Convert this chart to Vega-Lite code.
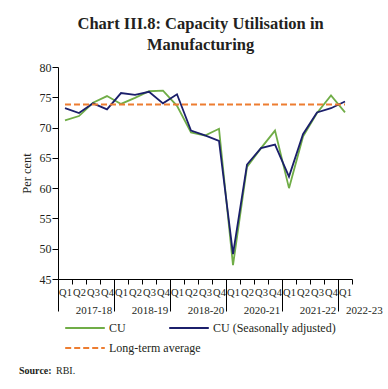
{
  "$schema": "https://vega.github.io/schema/vega-lite/v6.json",
  "padding": {"left": 19, "top": 15, "right": 4, "bottom": 4},
  "spacing": 46,
  "title": {
    "text": ["Chart III.8: Capacity Utilisation in", "Manufacturing"],
    "font": "Liberation Serif",
    "fontSize": 16.5,
    "fontWeight": "bold",
    "color": "#231f20",
    "lineHeight": 21,
    "anchor": "middle",
    "offset": 8
  },
  "config": {
    "view": {"stroke": null},
    "font": "Liberation Serif",
    "axis": {"labelFont": "Liberation Serif", "titleFont": "Liberation Serif", "labelColor": "#231f20", "titleColor": "#231f20", "domainColor": "#000000", "tickColor": "#000000", "grid": false},
    "axisY": {"labelOverlap": false}
  },
  "datasets": {
    "cu": [
      {"q": "2017-18 Q1", "cu": 71.2, "sa": 73.2, "lta": 73.8},
      {"q": "2017-18 Q2", "cu": 71.9, "sa": 72.4, "lta": 73.8},
      {"q": "2017-18 Q3", "cu": 74.1, "sa": 74.0, "lta": 73.8},
      {"q": "2017-18 Q4", "cu": 75.2, "sa": 73.0, "lta": 73.8},
      {"q": "2018-19 Q1", "cu": 73.9, "sa": 75.7, "lta": 73.8},
      {"q": "2018-19 Q2", "cu": 74.9, "sa": 75.4, "lta": 73.8},
      {"q": "2018-19 Q3", "cu": 76.0, "sa": 75.9, "lta": 73.8},
      {"q": "2018-19 Q4", "cu": 76.1, "sa": 74.0, "lta": 73.8},
      {"q": "2019-20 Q1", "cu": 73.6, "sa": 75.5, "lta": 73.8},
      {"q": "2019-20 Q2", "cu": 69.2, "sa": 69.5, "lta": 73.8},
      {"q": "2019-20 Q3", "cu": 68.7, "sa": 68.7, "lta": 73.8},
      {"q": "2019-20 Q4", "cu": 69.8, "sa": 67.8, "lta": 73.8},
      {"q": "2020-21 Q1", "cu": 47.3, "sa": 49.1, "lta": 73.8},
      {"q": "2020-21 Q2", "cu": 63.5, "sa": 63.9, "lta": 73.8},
      {"q": "2020-21 Q3", "cu": 66.6, "sa": 66.6, "lta": 73.8},
      {"q": "2020-21 Q4", "cu": 69.5, "sa": 67.2, "lta": 73.8},
      {"q": "2021-22 Q1", "cu": 60.0, "sa": 61.9, "lta": 73.8},
      {"q": "2021-22 Q2", "cu": 68.5, "sa": 68.9, "lta": 73.8},
      {"q": "2021-22 Q3", "cu": 72.4, "sa": 72.5, "lta": 73.8},
      {"q": "2021-22 Q4", "cu": 75.3, "sa": 73.2, "lta": 73.8},
      {"q": "2022-23 Q1", "cu": 72.5, "sa": 74.3, "lta": 73.8}
    ],
    "source": [{"a": "Source:", "b": "RBI."}]
  },
  "vconcat": [
    {
      "width": 294,
      "height": 212,
      "data": {"name": "cu"},
      "resolve": {"axis": {"x": "independent"}},
      "layer": [
        {
          "transform": [{"fold": ["cu", "sa"], "as": ["series", "value"]}],
          "mark": {"type": "line", "strokeWidth": 1.8},
          "encoding": {
            "x": {
              "field": "q", "type": "ordinal", "bandPosition": 0.5, "sort": null,
              "scale": {"type": "band", "paddingInner": 0, "paddingOuter": 0},
              "axis": {"orient": "bottom", "title": null, "labelAngle": 0, "tickBand": "extent", "tickSize": 5, "labelPadding": 3, "labelFontSize": 10.5, "labelExpr": "split(datum.value, ' ')[1]"}
            },
            "y": {
              "field": "value", "type": "quantitative",
              "scale": {"domain": [45, 80], "zero": false, "nice": false},
              "axis": {"values": [45, 50, 55, 60, 65, 70, 75, 80], "labelOverlap": false, "tickSize": 6, "labelPadding": 1, "labelFontSize": 12, "title": "Per cent", "titleFontSize": 12.5, "titleFontWeight": "normal", "titlePadding": 5.5}
            },
            "color": {
              "field": "series", "type": "nominal",
              "scale": {"domain": ["cu", "sa"], "range": ["#70ad47", "#1b1f6b"]},
              "legend": {
                "title": null, "orient": "none", "legendX": 6, "legendY": 251, "direction": "horizontal",
                "symbolType": "M-2.2,0H2.2", "symbolSize": 324, "symbolStrokeWidth": 2, "symbolOffset": 11,
                "labelFont": "Liberation Serif", "labelFontSize": 12, "labelColor": "#231f20", "labelOffset": 14,
                "columnPadding": 39, "padding": 0,
                "labelExpr": "datum.label == 'cu' ? 'CU' : 'CU (Seasonally adjusted)'"
              }
            }
          }
        },
        {
          "mark": {"type": "line", "strokeWidth": 2, "color": "#ed7d31"},
          "encoding": {
            "x": {"field": "q", "type": "ordinal", "bandPosition": 0.5, "sort": null, "scale": {"type": "band", "paddingInner": 0, "paddingOuter": 0}, "axis": null},
            "y": {
              "field": "lta", "type": "quantitative",
              "scale": {"domain": [45, 80], "zero": false, "nice": false},
              "axis": {"values": [45, 50, 55, 60, 65, 70, 75, 80], "labelOverlap": false, "tickSize": 6, "labelPadding": 1, "labelFontSize": 12, "title": "Per cent", "titleFontSize": 12.5, "titleFontWeight": "normal", "titlePadding": 5.5}
            },
            "strokeDash": {
              "datum": "Long-term average",
              "scale": {"domain": ["Long-term average"], "range": [[6, 3]]},
              "legend": {
                "title": null, "orient": "none", "legendX": 6, "legendY": 271, "direction": "horizontal",
                "symbolType": "M-2.2,0H2.2", "symbolSize": 324, "symbolStrokeWidth": 2, "symbolOffset": 11, "symbolStrokeColor": "#ed7d31",
                "labelFont": "Liberation Serif", "labelFontSize": 12, "labelColor": "#231f20", "labelOffset": 14, "padding": 0
              }
            }
          }
        },
        {
          "mark": {"type": "line", "opacity": 0},
          "encoding": {
            "x": {
              "field": "q", "type": "ordinal", "bandPosition": 0.5, "sort": null,
              "scale": {"type": "band", "paddingInner": 0, "paddingOuter": 0},
              "axis": {"orient": "bottom", "title": null, "values": ["2017-18 Q1", "2018-19 Q1", "2019-20 Q1", "2020-21 Q1", "2021-22 Q1", "2022-23 Q1"], "bandPosition": 0, "tickSize": 32, "labels": false, "domain": false}
            },
            "y": {
              "field": "lta", "type": "quantitative",
              "scale": {"domain": [45, 80], "zero": false, "nice": false},
              "axis": {"values": [45, 50, 55, 60, 65, 70, 75, 80], "labelOverlap": false, "tickSize": 6, "labelPadding": 1, "labelFontSize": 12, "title": "Per cent", "titleFontSize": 12.5, "titleFontWeight": "normal", "titlePadding": 5.5}
            }
          }
        },
        {
          "mark": {"type": "line", "opacity": 0},
          "encoding": {
            "x": {
              "field": "q", "type": "ordinal", "bandPosition": 0.5, "sort": null,
              "scale": {"type": "band", "paddingInner": 0, "paddingOuter": 0},
              "axis": {"orient": "bottom", "title": null, "values": ["2017-18 Q3", "2018-19 Q3", "2019-20 Q3", "2020-21 Q3", "2021-22 Q3", "2022-23 Q1"], "bandPosition": 0, "ticks": false, "domain": false, "labelAngle": 0, "labelFontSize": 11, "labelPadding": 25,
                "labelExpr": "datum.value == '2019-20 Q3' ? '2018-20' : split(datum.value, ' ')[0]",
                "labelAlign": {"condition": {"test": "datum.value == '2022-23 Q1'", "value": "left"}, "value": "center"}, "labelOffset": 1}
            },
            "y": {
              "field": "lta", "type": "quantitative",
              "scale": {"domain": [45, 80], "zero": false, "nice": false},
              "axis": {"values": [45, 50, 55, 60, 65, 70, 75, 80], "labelOverlap": false, "tickSize": 6, "labelPadding": 1, "labelFontSize": 12, "title": "Per cent", "titleFontSize": 12.5, "titleFontWeight": "normal", "titlePadding": 5.5}
            }
          }
        }
      ]
    },
    {
      "width": 100,
      "height": 10,
      "data": {"name": "source"},
      "layer": [
        {"mark": {"type": "text", "align": "left", "baseline": "top", "font": "Liberation Serif", "fontSize": 10, "fontWeight": "bold", "color": "#231f20", "dx": -39}, "encoding": {"x": {"value": 0}, "text": {"field": "a"}}},
        {"mark": {"type": "text", "align": "left", "baseline": "top", "font": "Liberation Serif", "fontSize": 10, "color": "#231f20", "dx": -2}, "encoding": {"x": {"value": 0}, "text": {"field": "b"}}}
      ]
    }
  ]
}
